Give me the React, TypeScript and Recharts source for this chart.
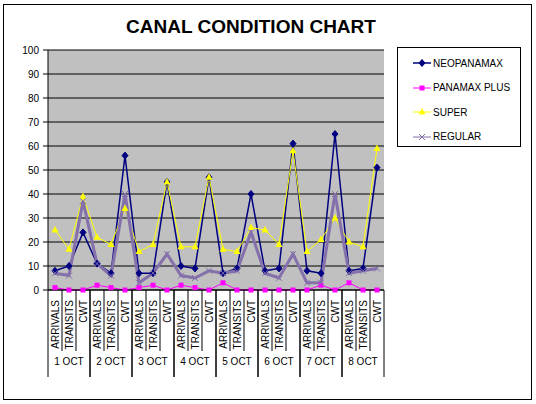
import React from "react";
import { LineChart, Line, XAxis, YAxis, CartesianGrid, Legend } from "recharts";

const days = ["1 OCT", "2 OCT", "3 OCT", "4 OCT", "5 OCT", "6 OCT", "7 OCT", "8 OCT"];
const kinds = ["ARRIVALS", "TRANSITS", "CWT"];
const yTicks = [0, 10, 20, 30, 40, 50, 60, 70, 80, 90, 100];
const seriesNames = ["NEOPANAMAX", "PANAMAX PLUS", "SUPER", "REGULAR"];

const neopanamax = [8, 10, 24, 11, 7, 56, 7, 7, 45, 10, 9, 47, 7, 9, 40, 8, 9, 61, 8, 7, 65, 8, 9, 51];
const panamaxPlus = [1, 0, 0, 2, 1, 0, 1, 2, 0, 2, 1, 0, 3, 0, 0, 0, 0, 0, 0, 2, 0, 3, 0, 0];
const superSeries = [25, 17, 39, 22, 19, 34, 16, 19, 45, 18, 18, 47, 17, 16, 26, 25, 19, 58, 16, 21, 30, 20, 18, 59];
const regular = [7, 6, 37, 11, 6, 40, 3, 7, 15, 6, 5, 8, 7, 8, 24, 7, 5, 15, 3, 3, 40, 7, 8, 9];

const data = days.flatMap((day, d) =>
  kinds.map((kind, k) => {
    const i = d * 3 + k;
    return {
      key: `${day}|${kind}|${i}`,
      day,
      kind,
      NEOPANAMAX: neopanamax[i],
      "PANAMAX PLUS": panamaxPlus[i],
      SUPER: superSeries[i],
      REGULAR: regular[i],
    };
  })
);

const W = 536;
const H = 404;
const PLOT_LEFT = 48;
const PLOT_RIGHT = 384;
const PLOT_TOP = 50;
const PLOT_BOTTOM = 290;
const BAND = (PLOT_RIGHT - PLOT_LEFT) / data.length;
const FONT = "'Liberation Sans', Arial, sans-serif";

const NAVY = "#000080";
const MAGENTA = "#FF00FF";
const YELLOW = "#FFFF00";
const PURPLE = "#8470AA";

const Diamond = ({ cx, cy, color }: any) =>
  cx == null || cy == null ? null : (
    <polygon points={`${cx},${cy - 3.5} ${cx + 3},${cy} ${cx},${cy + 3.5} ${cx - 3},${cy}`} fill={color} stroke={color} />
  );
const Square = ({ cx, cy, color }: any) =>
  cx == null || cy == null ? null : <rect x={cx - 2.5} y={cy - 2.5} width={5} height={5} fill={color} />;
const Triangle = ({ cx, cy, color }: any) =>
  cx == null || cy == null ? null : (
    <polygon points={`${cx},${cy - 4} ${cx + 3.5},${cy + 2.5} ${cx - 3.5},${cy + 2.5}`} fill={color} />
  );
const Cross = ({ cx, cy, color }: any) =>
  cx == null || cy == null ? null : (
    <path d={`M${cx - 3},${cy - 3}L${cx + 3},${cy + 3}M${cx - 3},${cy + 3}L${cx + 3},${cy - 3}`} stroke={color} strokeWidth={1} fill="none" />
  );

const markerFor: Record<string, any> = {
  NEOPANAMAX: Diamond,
  "PANAMAX PLUS": Square,
  SUPER: Triangle,
  REGULAR: Cross,
};

const XTick = (props: any) => {
  const { x, y, index } = props;
  const item = data[index];
  if (!item) return null;
  const k = index % 3;
  const left = x - BAND / 2;
  const right = x + BAND / 2;
  return (
    <g>
      <line x1={left} y1={y} x2={left} y2={y + (k === 0 ? 87 : 61)} stroke="#000" strokeWidth={1} />
      {k === 2 && <line x1={right} y1={y} x2={right} y2={y + 87} stroke="#000" strokeWidth={1} />}
      <text
        x={x}
        y={y + 10}
        transform={`rotate(-90, ${x}, ${y + 10})`}
        textAnchor="end"
        dy="0.35em"
        fontSize={10}
        fontFamily={FONT}
        fill="#000"
      >
        {item.kind}
      </text>
      {k === 1 && (
        <text x={x} y={y + 75} textAnchor="middle" fontSize={10} fontFamily={FONT} fill="#000">
          {item.day}
        </text>
      )}
    </g>
  );
};

const LegendContent = (props: any) => {
  const payload = [...(props.payload || [])].sort(
    (a: any, b: any) => seriesNames.indexOf(a.value) - seriesNames.indexOf(b.value)
  );
  return (
    <div
      style={{
        width: 122,
        height: 98,
        border: "1px solid #000",
        background: "#fff",
        boxSizing: "content-box",
        position: "relative",
      }}
    >
      {payload.map((p: any, i: number) => {
        const M = markerFor[p.value];
        const color = p.color;
        return (
          <div
            key={p.value}
            style={{
              position: "absolute",
              left: 14,
              top: 8 + i * 24.5,
              height: 14,
              display: "flex",
              alignItems: "center",
              fontFamily: FONT,
              fontSize: 10,
              color: "#000",
              whiteSpace: "nowrap",
            }}
          >
            <svg width={20} height={14} style={{ display: "block" }}>
              <line x1={1} y1={7} x2={19} y2={7} stroke={color} strokeWidth={p.value === "NEOPANAMAX" ? 1.5 : 1} />
              <M cx={10} cy={7} color={color} />
            </svg>
            <span style={{ marginLeft: 1 }}>{p.value}</span>
          </div>
        );
      })}
    </div>
  );
};

export default function App() {
  return (
    <div style={{ position: "absolute", left: 0, top: 0, width: W, height: H, background: "#fff" }}>
      <div
        style={{
          position: "absolute",
          left: 3,
          top: 4,
          width: 527,
          height: 394,
          border: "1px solid #000",
        }}
      />
      <div
        style={{
          position: "absolute",
          left: 0,
          top: 16,
          width: 502,
          textAlign: "center",
          fontFamily: FONT,
          fontWeight: "bold",
          fontSize: 19,
          color: "#000",
          lineHeight: "22px",
        }}
      >
        CANAL CONDITION CHART
      </div>
      <div style={{ position: "absolute", left: 0, top: 0 }}>
        <LineChart
          width={W}
          height={H}
          data={data}
          margin={{ top: PLOT_TOP, right: W - PLOT_RIGHT, bottom: H - PLOT_BOTTOM - 90, left: 8 }}
        >
          <CartesianGrid vertical={false} fill="#C0C0C0" stroke="#000" strokeWidth={1} fillOpacity={1} />
          <XAxis
            dataKey="key"
            scale="band"
            interval={0}
            height={90}
            tickSize={0}
            tickMargin={0}
            tickLine={false}
            axisLine={{ stroke: "#000", strokeWidth: 1 }}
            tick={<XTick />}
          />
          <XAxis xAxisId="top" dataKey="key" scale="band" orientation="top" height={0} tick={false} tickLine={false} axisLine={{ stroke: "#808080" }} />
          <YAxis
            domain={[0, 100]}
            ticks={yTicks}
            interval={0}
            width={40}
            tickSize={5}
            tickMargin={4}
            axisLine={{ stroke: "#000" }}
            tickLine={{ stroke: "#000" }}
            tick={{ fontSize: 10, fontFamily: FONT, fill: "#000" }}
          />
          <YAxis yAxisId="right" orientation="right" width={0} domain={[0, 100]} tick={false} tickLine={false} axisLine={{ stroke: "#808080" }} />
          <Legend
            layout="vertical"
            verticalAlign="middle"
            align="center"
            wrapperStyle={{ position: "absolute", left: 397, top: 47, width: 124, height: 100 }}
            content={<LegendContent />}
          />
          <Line
            type="linear"
            dataKey="NEOPANAMAX"
            stroke={NAVY}
            strokeWidth={1.5}
            dot={(p: any) => <Diamond key={`n${p.index}`} cx={p.cx} cy={p.cy} color={NAVY} />}
            activeDot={false}
            isAnimationActive={false}
          />
          <Line
            type="linear"
            dataKey="PANAMAX PLUS"
            stroke={MAGENTA}
            strokeWidth={1}
            dot={(p: any) => <Square key={`m${p.index}`} cx={p.cx} cy={p.cy} color={MAGENTA} />}
            activeDot={false}
            isAnimationActive={false}
          />
          <Line
            type="linear"
            dataKey="SUPER"
            stroke={YELLOW}
            strokeWidth={1}
            dot={(p: any) => <Triangle key={`s${p.index}`} cx={p.cx} cy={p.cy} color={YELLOW} />}
            activeDot={false}
            isAnimationActive={false}
          />
          <Line
            type="linear"
            dataKey="REGULAR"
            stroke={PURPLE}
            strokeWidth={3}
            dot={(p: any) => <Cross key={`r${p.index}`} cx={p.cx} cy={p.cy} color={PURPLE} />}
            activeDot={false}
            isAnimationActive={false}
          />
        </LineChart>
      </div>
    </div>
  );
}
